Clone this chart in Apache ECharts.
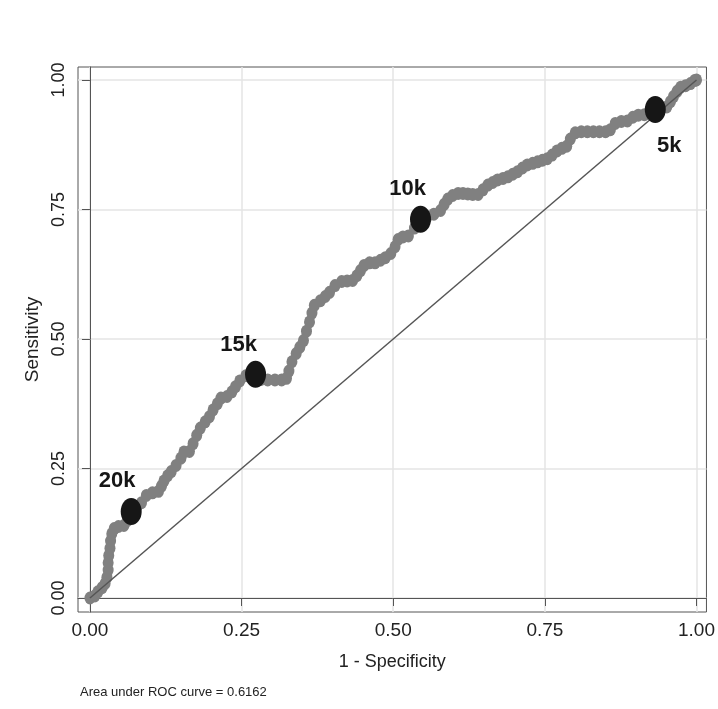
<!DOCTYPE html>
<html>
<head>
<meta charset="utf-8">
<script src="https://cdn.jsdelivr.net/npm/echarts@6/dist/echarts.min.js"></script>
<style>
html,body{margin:0;padding:0;background:#fff;}
#chart{width:718px;height:709px;}
</style>
</head>
<body>
<div id="chart"></div>
<script>
// ---- data ----
var fprX = [0.000,0.008,0.013,0.020,0.025,0.028,0.030,0.030,0.031,0.033,0.034,0.036,0.040,0.047,0.056,0.062,0.068,0.077,0.085,0.093,
0.103,0.113,0.118,0.122,0.128,0.134,0.142,0.150,0.155,0.164,0.170,0.176,0.182,0.190,0.197,0.203,0.210,0.216,0.226,0.234,
0.240,0.247,0.257,0.265,0.273,0.282,0.293,0.305,0.316,0.324,0.328,0.333,0.340,0.346,0.352,0.357,0.362,0.366,0.370,0.380,
0.388,0.395,0.404,0.415,0.424,0.433,0.440,0.446,0.452,0.461,0.470,0.479,0.487,0.496,0.503,0.508,0.516,0.525,0.535,0.545,
0.556,0.567,0.578,0.584,0.590,0.598,0.607,0.615,0.623,0.631,0.640,0.648,0.656,0.664,0.672,0.681,0.689,0.697,0.705,0.713,
0.721,0.730,0.738,0.746,0.754,0.762,0.770,0.778,0.786,0.792,0.800,0.810,0.820,0.830,0.840,0.850,0.858,0.866,0.876,0.886,
0.895,0.904,0.914,0.922,0.932,0.942,0.951,0.957,0.962,0.968,0.974,0.982,0.990,0.997,1.000];
var tprY = [0.000,0.004,0.012,0.020,0.028,0.040,0.054,0.068,0.082,0.096,0.110,0.124,0.134,0.138,0.140,0.150,0.167,0.176,0.184,0.198,
0.203,0.206,0.216,0.226,0.236,0.244,0.256,0.270,0.282,0.283,0.298,0.314,0.328,0.340,0.350,0.363,0.375,0.386,0.389,0.398,
0.408,0.419,0.429,0.432,0.432,0.422,0.421,0.421,0.421,0.424,0.438,0.456,0.472,0.484,0.497,0.515,0.533,0.550,0.565,0.574,
0.582,0.590,0.603,0.611,0.612,0.613,0.622,0.632,0.642,0.647,0.647,0.652,0.657,0.665,0.678,0.692,0.697,0.699,0.714,0.731,
0.736,0.741,0.748,0.760,0.770,0.777,0.781,0.781,0.780,0.779,0.779,0.788,0.797,0.802,0.807,0.810,0.813,0.818,0.823,0.830,
0.836,0.839,0.842,0.845,0.848,0.855,0.863,0.868,0.872,0.886,0.898,0.900,0.900,0.900,0.900,0.900,0.904,0.916,0.920,0.921,
0.928,0.932,0.933,0.937,0.943,0.946,0.948,0.958,0.968,0.978,0.986,0.989,0.993,0.999,1.000];
var cutNames = ['20k','15k','10k','5k'];
var cutX = [0.068,0.273,0.545,0.932];
var cutY = [0.167,0.432,0.731,0.943];
var refX = [0,1];
var refY = [0,1];
var tickVals = [0,0.25,0.5,0.75,1];
var tickLabels = ['0.00','0.25','0.50','0.75','1.00'];
var xTitle = '1 - Specificity';
var yTitle = 'Sensitivity';
var aucNote = 'Area under ROC curve = 0.6162';

// ---- build ----
function zip(a,b){return a.map(function(v,i){return [v,b[i]];});}
var font = "'Liberation Sans',Arial,Helvetica,sans-serif";
var labelFmt = function(v){var i=tickVals.indexOf(v);return i>=0?tickLabels[i]:'';};
var labelStyles = [
  {position:'top', offset:[-14,-1]},
  {position:'top', offset:[-17,0]},
  {position:'top', offset:[-13,-1]},
  {position:'bottom', offset:[14,7]}
];

var chart = echarts.init(document.getElementById('chart'), null, {renderer:'canvas'});
chart.setOption({
  animation:false,
  backgroundColor:'#ffffff',
  grid:{left:78,right:8,top:67,bottom:97,show:true,borderColor:'#555',borderWidth:1,backgroundColor:'transparent'},
  xAxis:{
    type:'value', min:-0.0197, max:1.0164,
    name:xTitle, nameLocation:'middle', nameGap:41,
    nameTextStyle:{fontFamily:font,fontSize:18,color:'#222'},
    axisLine:{show:true,lineStyle:{color:'#555',width:1}},
    axisTick:{show:true,length:8,customValues:tickVals,lineStyle:{color:'#555'}},
    axisLabel:{customValues:tickVals,formatter:labelFmt,fontFamily:font,fontSize:19,color:'#222',margin:9},
    splitLine:{show:true,lineStyle:{color:'#e4e4e4',width:1.5}}
  },
  yAxis:{
    type:'value', min:-0.027, max:1.025,
    name:yTitle, nameLocation:'middle', nameGap:29, nameRotate:90,
    nameTextStyle:{fontFamily:font,fontSize:19,color:'#222'},
    axisLine:{show:true,lineStyle:{color:'#555',width:1}},
    axisTick:{show:true,length:8,customValues:tickVals,lineStyle:{color:'#555'}},
    axisLabel:{customValues:tickVals,formatter:labelFmt,rotate:90,fontFamily:font,fontSize:18,color:'#222',margin:10},
    splitLine:{show:true,lineStyle:{color:'#e4e4e4',width:1.5}}
  },
  series:[
    {
      type:'line', data:zip(fprX,tprY), z:2,
      symbol:'circle', symbolSize:[11,13], showSymbol:true,
      itemStyle:{color:'#808080'},
      lineStyle:{color:'#808080',width:6}
    },
    {
      type:'line', data:zip(refX,refY), z:3,
      symbol:'none', lineStyle:{color:'#555',width:1.5}
    },
    {
      type:'scatter', z:4,
      data:cutX.map(function(x,i){return {value:[x,cutY[i]],name:cutNames[i],label:labelStyles[i]};}),
      symbol:'circle', symbolSize:[21,27],
      itemStyle:{color:'#161616',opacity:1},
      label:{show:true,formatter:'{b}',fontFamily:font,fontWeight:'bold',fontSize:22,color:'#161616'}
    }
  ],
  graphic:[
    {type:'text', left:80, top:686, style:{text:aucNote, font:"13px 'Liberation Sans',Arial,sans-serif", fill:'#222'}}
  ]
});
</script>
</body>
</html>
